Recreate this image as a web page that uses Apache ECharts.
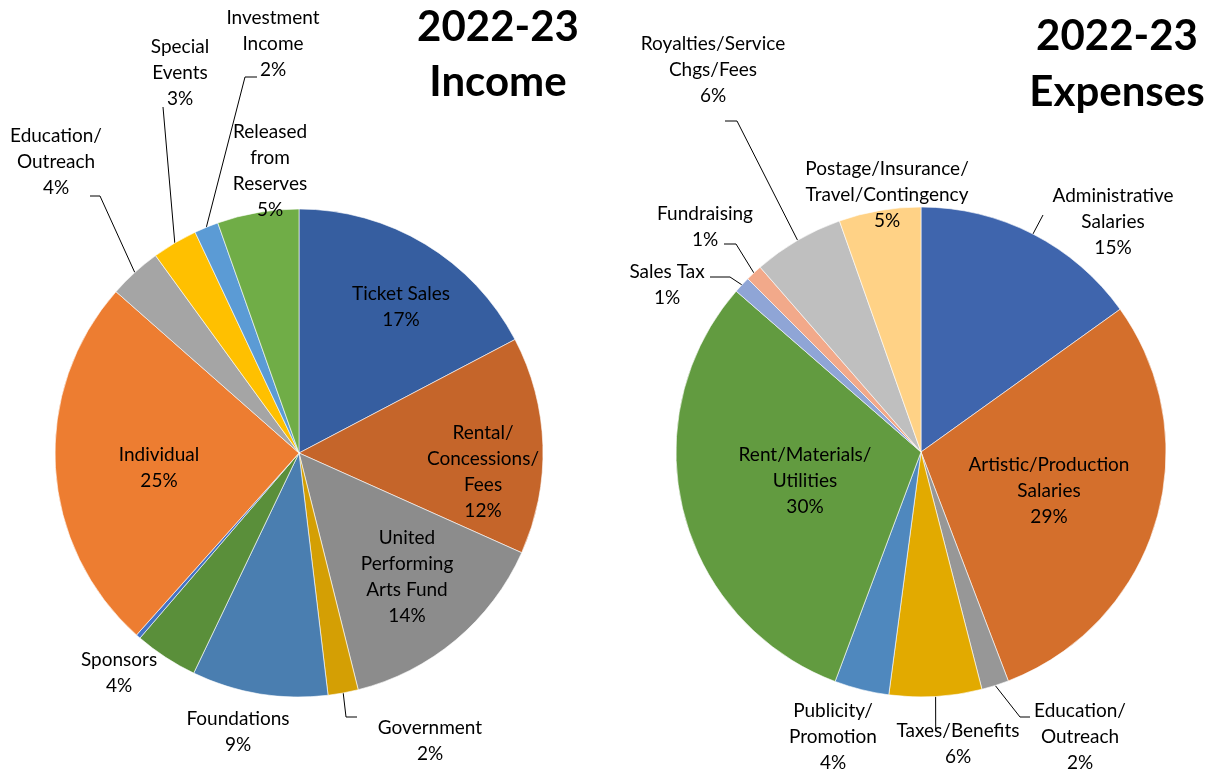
<!DOCTYPE html>
<html><head><meta charset="utf-8">
<script src="https://cdn.jsdelivr.net/npm/echarts@6/dist/echarts.min.js"></script>
<style>html,body{margin:0;padding:0;background:#fff}#chart{width:1214px;height:772px}</style>
</head><body><div id="chart"></div>
<script>
// ---------- DATA ----------
const incomeCategories = ['Ticket Sales', 'Rental/\nConcessions/\nFees', 'United\nPerforming\nArts Fund', 'Government', 'Foundations', 'Sponsors', '', 'Individual', 'Education/\nOutreach', 'Special\nEvents', 'Investment\nIncome', 'Released\nfrom\nReserves'];
const incomeValues = [17.3, 14.4, 14.4, 2.0, 9.0, 4.2, 0.3, 24.9, 3.5, 3.0, 1.6, 5.4];
const incomePctLabels = ['17%', '12%', '14%', '2%', '9%', '4%', '', '25%', '4%', '3%', '2%', '5%'];

const expenseCategories = ['Administrative\nSalaries', 'Artistic/Production\nSalaries', 'Education/\nOutreach', 'Taxes/Benefits', 'Publicity/\nPromotion', 'Rent/Materials/\nUtilities', 'Sales Tax', 'Fundraising', 'Royalties/Service\nChgs/Fees', 'Postage/Insurance/\nTravel/Contingency'];
const expenseValues = [15.1, 29.1, 1.8, 6.1, 3.6, 30.7, 1.1, 1.1, 6.0, 5.4];
const expensePctLabels = ['15%', '29%', '2%', '6%', '4%', '30%', '1%', '1%', '6%', '5%'];

const titles = ['2022-23\nIncome', '2022-23\nExpenses'];

// ---------- STYLE / LAYOUT ----------
const incomeColors = ['#365EA0', '#C5652A', '#8C8C8C', '#D49F04', '#4A7EB0', '#5A8F3A', '#4472C4', '#ED7D31', '#A5A5A5', '#FFC000', '#5B9BD5', '#70AD47'];
const expenseColors = ['#3F65AD', '#D46F2C', '#979797', '#E2AA00', '#4F88BE', '#629B40', '#8FA5D6', '#F2A98A', '#BFBFBF', '#FFD286'];

const incomePie = { center: [299, 453], radius: 244 };
const expensePie = { center: [921, 452], radius: 245 };

const incomeLabelPos = [[401, 307], [483, 472], [407, 577], [430, 741], [238, 732], [119, 673], null, [159, 468], [56, 162], [180, 73], [273, 44], [270, 171]];
const expenseLabelPos = [[1113, 222], [1049, 491], [1080, 737], [958, 744], [833, 737], [805, 481], [667, 285], [705, 227], [713, 70], [887, 195]];

const incomeLeaders = { 3: [[346, 717], [357, 717]], 8: [[100, 196], [90, 196]], 9: [[163, 107], [163, 107]], 10: [[245, 77], [257, 77]] };
const expenseLeaders = { 0: [[1043, 215], [1043, 215]], 2: [[1020, 717], [1030, 717]], 3: [[935.7, 730], [935.7, 730]], 6: [[730, 277], [710, 277]], 7: [[736, 244], [724, 244]], 8: [[737, 121], [725, 121]] };

const FONT = 'Lato, Carlito, "Noto Sans", sans-serif';

function anchorPoint(values, idx, pie) {
  const total = values.reduce((a, b) => a + b, 0);
  let cum = 0;
  for (let k = 0; k < idx; k++) cum += values[k];
  const a = 2 * Math.PI * (cum + values[idx] / 2) / total;
  return [pie.center[0] + pie.radius * Math.sin(a), pie.center[1] - pie.radius * Math.cos(a)];
}

function buildSeries(names, values, pcts, colors, pie, labelPos, leaders) {
  return {
    type: 'pie',
    center: pie.center,
    radius: pie.radius,
    startAngle: 90,
    clockwise: true,
    avoidLabelOverlap: false,
    animation: false,
    silent: true,
    itemStyle: { borderColor: '#ffffff', borderWidth: 0.6 },
    label: {
      show: true,
      position: 'outside',
      fontFamily: FONT,
      fontSize: 19,
      lineHeight: 26,
      color: '#000',
      overflow: 'none',
      formatter: p => p.name + '\n' + pcts[p.dataIndex]
    },
    labelLine: { show: true, length: 10, length2: 10, lineStyle: { color: '#000', width: 1 } },
    labelLayout: params => {
      const i = params.dataIndex;
      const pos = labelPos[i];
      if (!pos) return {};
      const res = { x: pos[0], y: pos[1], align: 'center', verticalAlign: 'middle' };
      if (leaders[i]) {
        res.labelLinePoints = [anchorPoint(values, i, pie), leaders[i][0], leaders[i][1]];
      }
      return res;
    },
    data: names.map((n, i) => ({
      name: n,
      value: values[i],
      itemStyle: { color: colors[i] },
      label: { show: !!labelPos[i] },
      labelLine: { show: !!leaders[i] }
    }))
  };
}

const chart = echarts.init(document.getElementById('chart'), null, { renderer: 'canvas' });
chart.setOption({
  backgroundColor: '#ffffff',
  animation: false,
  title: [
    { text: titles[0], left: 498, top: 0, padding: 0, textAlign: 'center',
      textStyle: { fontFamily: FONT, fontSize: 42, fontWeight: 'bold', lineHeight: 55, color: '#000' } },
    { text: titles[1], left: 1117, top: 8, padding: 0, textAlign: 'center',
      textStyle: { fontFamily: FONT, fontSize: 42, fontWeight: 'bold', lineHeight: 56, color: '#000' } }
  ],
  series: [
    buildSeries(incomeCategories, incomeValues, incomePctLabels, incomeColors, incomePie, incomeLabelPos, incomeLeaders),
    buildSeries(expenseCategories, expenseValues, expensePctLabels, expenseColors, expensePie, expenseLabelPos, expenseLeaders)
  ]
});
</script></body></html>
